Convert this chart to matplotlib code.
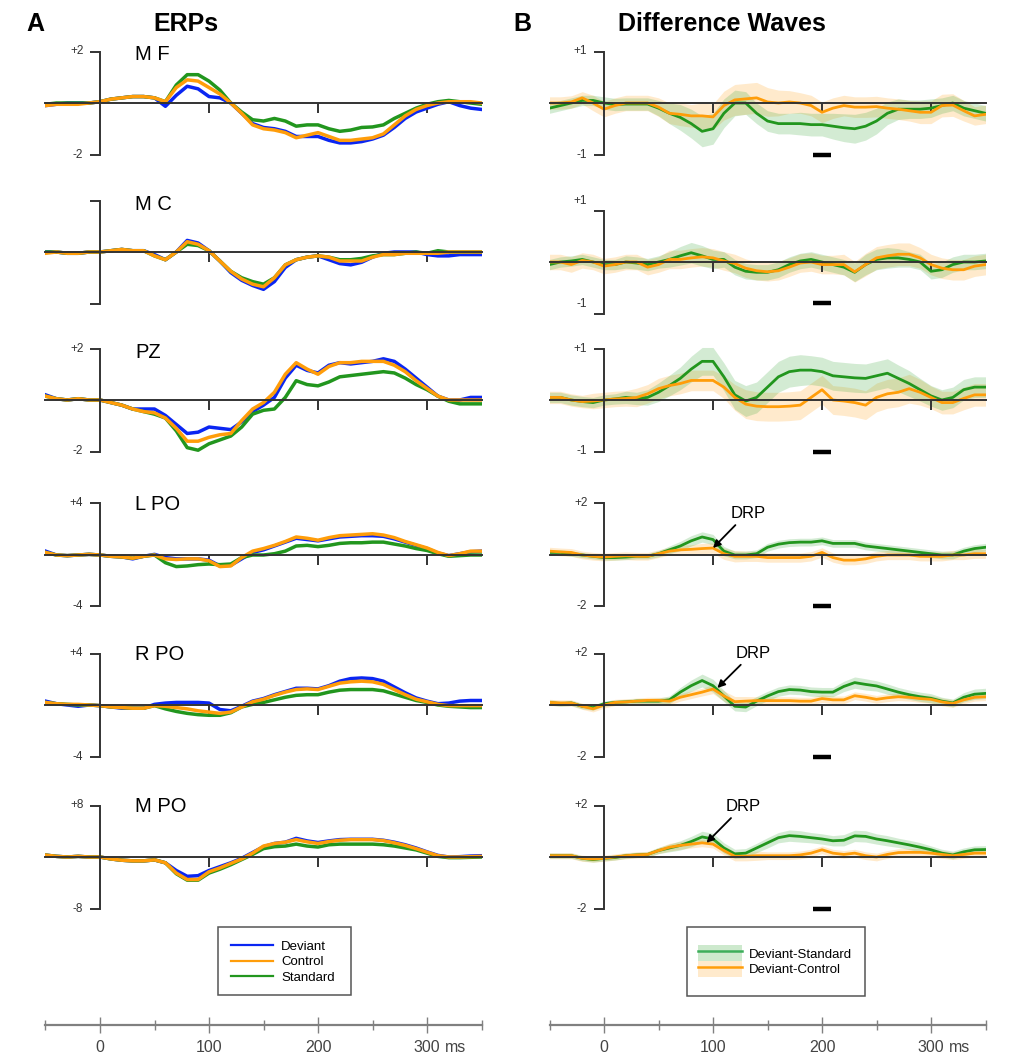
import numpy as np
import matplotlib.pyplot as plt
from matplotlib.lines import Line2D
from matplotlib.patches import Patch, Rectangle
from matplotlib.legend_handler import HandlerTuple

plt.rcParams['font.family'] = ['Liberation Sans', 'DejaVu Sans']

# time axis (ms), one value every 10 ms
times = np.arange(-50, 351, 10)

# ---- ERPs (uV): deviant / control / standard ----
mf_dev = [-0.10, -0.05, 0.00, 0.00, 0.00, 0.05, 0.15, 0.20, 0.25, 0.25, 0.20, -0.13, 0.30, 0.65, 0.55, 0.25, 0.20, 0.00, -0.40, -0.80, -0.95, -1.00, -1.10, -1.30, -1.30, -1.30, -1.45, -1.55, -1.55, -1.50, -1.40, -1.25, -0.95, -0.60, -0.35, -0.20, -0.05, 0.05, -0.10, -0.20, -0.25]
mf_ctl = [-0.10, -0.05, -0.05, -0.05, 0.00, 0.05, 0.15, 0.20, 0.25, 0.25, 0.20, 0.05, 0.60, 0.90, 0.85, 0.60, 0.35, 0.00, -0.40, -0.85, -1.00, -1.05, -1.15, -1.35, -1.25, -1.15, -1.30, -1.45, -1.45, -1.40, -1.35, -1.20, -0.85, -0.50, -0.25, -0.10, 0.00, 0.05, 0.05, 0.05, 0.00]
mf_std = [-0.05, 0.00, 0.00, 0.00, 0.00, 0.05, 0.15, 0.20, 0.25, 0.25, 0.20, 0.05, 0.70, 1.10, 1.10, 0.85, 0.50, 0.00, -0.35, -0.65, -0.70, -0.60, -0.70, -0.90, -0.85, -0.85, -1.00, -1.10, -1.05, -0.95, -0.93, -0.85, -0.60, -0.40, -0.20, -0.05, 0.05, 0.10, 0.05, 0.00, -0.05]

mc_dev = [0.00, 0.00, -0.05, -0.05, 0.00, 0.00, 0.05, 0.10, 0.05, 0.05, -0.10, -0.30, 0.00, 0.45, 0.35, 0.05, -0.35, -0.80, -1.10, -1.30, -1.45, -1.15, -0.60, -0.30, -0.20, -0.15, -0.30, -0.45, -0.50, -0.40, -0.20, -0.05, 0.00, 0.00, 0.00, -0.10, -0.15, -0.15, -0.10, -0.10, -0.10]
mc_ctl = [-0.05, 0.00, -0.05, -0.05, 0.00, 0.00, 0.05, 0.10, 0.05, 0.05, -0.15, -0.30, 0.00, 0.40, 0.30, 0.05, -0.35, -0.75, -1.05, -1.25, -1.35, -1.00, -0.50, -0.30, -0.20, -0.15, -0.20, -0.35, -0.35, -0.35, -0.20, -0.10, -0.10, -0.05, -0.05, -0.05, -0.05, 0.00, 0.00, 0.00, 0.00]
mc_std = [0.00, 0.00, -0.05, -0.05, 0.00, 0.00, 0.05, 0.10, 0.05, 0.05, -0.15, -0.30, 0.00, 0.30, 0.25, 0.05, -0.35, -0.75, -1.00, -1.15, -1.25, -1.00, -0.50, -0.30, -0.20, -0.15, -0.20, -0.30, -0.30, -0.25, -0.15, -0.10, -0.10, -0.05, 0.00, -0.05, 0.05, 0.00, 0.00, 0.00, 0.00]

pz_dev = [0.20, 0.05, 0.00, 0.05, 0.00, 0.00, -0.10, -0.20, -0.35, -0.35, -0.35, -0.60, -0.95, -1.30, -1.25, -1.05, -1.10, -1.15, -0.85, -0.45, -0.20, 0.10, 0.85, 1.35, 1.15, 1.05, 1.35, 1.45, 1.40, 1.45, 1.50, 1.60, 1.50, 1.20, 0.85, 0.50, 0.15, 0.00, 0.00, 0.10, 0.10]
pz_ctl = [0.15, 0.05, 0.00, 0.05, 0.00, 0.00, -0.10, -0.20, -0.35, -0.45, -0.50, -0.70, -1.10, -1.60, -1.60, -1.45, -1.35, -1.30, -0.80, -0.35, -0.10, 0.30, 1.00, 1.45, 1.20, 1.00, 1.30, 1.45, 1.45, 1.50, 1.50, 1.50, 1.35, 1.10, 0.75, 0.45, 0.15, 0.00, 0.00, 0.00, 0.00]
pz_std = [0.15, 0.05, 0.00, 0.05, 0.00, 0.00, -0.10, -0.20, -0.35, -0.45, -0.55, -0.70, -1.20, -1.85, -1.95, -1.70, -1.55, -1.40, -1.05, -0.55, -0.40, -0.35, 0.10, 0.75, 0.60, 0.55, 0.70, 0.90, 0.95, 1.00, 1.05, 1.10, 1.05, 0.85, 0.60, 0.40, 0.15, -0.05, -0.15, -0.15, -0.15]

lpo_dev = [0.30, 0.00, -0.05, 0.00, 0.05, 0.00, -0.10, -0.15, -0.30, -0.10, 0.05, -0.20, -0.30, -0.30, -0.30, -0.40, -0.85, -0.80, -0.30, 0.20, 0.40, 0.70, 1.00, 1.30, 1.20, 1.10, 1.25, 1.40, 1.45, 1.50, 1.50, 1.45, 1.25, 1.00, 0.75, 0.50, 0.15, -0.05, 0.10, 0.25, 0.30]
lpo_ctl = [0.20, 0.00, -0.05, 0.00, 0.05, 0.00, -0.10, -0.15, -0.25, -0.10, 0.00, -0.30, -0.35, -0.30, -0.30, -0.45, -0.90, -0.85, -0.20, 0.30, 0.50, 0.75, 1.05, 1.40, 1.30, 1.15, 1.35, 1.50, 1.55, 1.60, 1.65, 1.55, 1.35, 1.05, 0.80, 0.55, 0.20, -0.05, 0.10, 0.30, 0.30]
lpo_std = [0.20, 0.00, -0.05, 0.00, 0.05, 0.00, -0.10, -0.15, -0.25, -0.10, 0.00, -0.60, -0.90, -0.85, -0.75, -0.70, -0.75, -0.70, -0.20, 0.00, 0.00, 0.10, 0.30, 0.70, 0.75, 0.65, 0.75, 0.90, 0.95, 0.95, 1.00, 1.00, 0.85, 0.70, 0.50, 0.35, 0.10, -0.10, -0.05, 0.00, 0.00]

rpo_dev = [0.30, 0.10, 0.00, -0.10, 0.00, -0.05, -0.15, -0.25, -0.25, -0.25, 0.05, 0.15, 0.20, 0.20, 0.20, 0.15, -0.35, -0.45, -0.10, 0.30, 0.50, 0.80, 1.05, 1.30, 1.30, 1.25, 1.50, 1.85, 2.05, 2.10, 2.05, 1.85, 1.40, 0.95, 0.55, 0.30, 0.10, 0.15, 0.30, 0.35, 0.35]
rpo_ctl = [0.20, 0.10, 0.05, 0.05, 0.00, -0.05, -0.15, -0.20, -0.25, -0.25, -0.05, -0.10, -0.20, -0.30, -0.45, -0.55, -0.65, -0.55, -0.15, 0.25, 0.45, 0.75, 1.00, 1.20, 1.25, 1.20, 1.45, 1.70, 1.80, 1.85, 1.80, 1.60, 1.20, 0.80, 0.45, 0.25, 0.05, -0.05, -0.05, -0.05, -0.05]
rpo_std = [0.20, 0.10, 0.05, 0.00, 0.00, -0.05, -0.15, -0.20, -0.25, -0.25, -0.05, -0.30, -0.50, -0.65, -0.75, -0.80, -0.80, -0.60, -0.15, 0.05, 0.20, 0.40, 0.60, 0.75, 0.80, 0.80, 1.00, 1.15, 1.20, 1.20, 1.20, 1.10, 0.85, 0.60, 0.35, 0.20, 0.00, -0.10, -0.15, -0.20, -0.20]

mpo_dev = [0.30, 0.10, 0.00, 0.10, 0.00, 0.00, -0.30, -0.50, -0.60, -0.60, -0.45, -0.90, -2.10, -3.00, -2.90, -2.10, -1.50, -0.90, -0.20, 0.70, 1.60, 2.10, 2.30, 2.90, 2.50, 2.25, 2.50, 2.70, 2.75, 2.75, 2.75, 2.60, 2.30, 1.90, 1.40, 0.80, 0.25, 0.00, 0.05, 0.15, 0.20]
mpo_ctl = [0.30, 0.10, 0.00, 0.10, 0.00, 0.00, -0.30, -0.50, -0.60, -0.60, -0.45, -0.90, -2.50, -3.50, -3.50, -2.30, -1.70, -1.00, -0.30, 0.60, 1.70, 2.10, 2.30, 2.70, 2.35, 2.10, 2.40, 2.60, 2.70, 2.70, 2.70, 2.55, 2.20, 1.80, 1.30, 0.75, 0.20, 0.00, 0.00, 0.05, 0.10]
mpo_std = [0.30, 0.10, 0.00, 0.10, 0.00, 0.00, -0.30, -0.50, -0.60, -0.60, -0.45, -0.90, -2.60, -3.60, -3.60, -2.50, -1.90, -1.20, -0.40, 0.40, 1.30, 1.60, 1.70, 2.00, 1.70, 1.55, 1.90, 2.00, 2.00, 2.00, 2.00, 1.90, 1.70, 1.40, 1.10, 0.60, 0.10, -0.10, -0.10, -0.05, 0.00]

# ---- difference waves: deviant-standard / deviant-control, with SE ----
mf_dstd = [-0.10, -0.05, 0.00, 0.05, 0.05, 0.00, -0.03, -0.02, -0.02, -0.02, -0.10, -0.20, -0.28, -0.40, -0.55, -0.50, -0.20, 0.00, 0.00, -0.20, -0.35, -0.40, -0.40, -0.40, -0.42, -0.42, -0.45, -0.48, -0.50, -0.45, -0.35, -0.20, -0.12, -0.12, -0.12, -0.10, -0.05, 0.00, -0.10, -0.15, -0.20]
mf_dctl = [0.00, 0.00, 0.02, 0.10, 0.00, -0.12, -0.05, 0.00, 0.00, 0.00, -0.08, -0.20, -0.22, -0.25, -0.25, -0.27, -0.05, 0.06, 0.08, 0.10, 0.02, 0.00, 0.02, 0.00, -0.05, -0.18, -0.10, -0.05, -0.08, -0.08, -0.07, -0.10, -0.12, -0.15, -0.18, -0.18, -0.05, -0.04, -0.15, -0.25, -0.22]
mf_dstd_se = [0.10, 0.10, 0.10, 0.10, 0.10, 0.12, 0.12, 0.12, 0.12, 0.12, 0.15, 0.20, 0.25, 0.28, 0.30, 0.30, 0.28, 0.25, 0.22, 0.20, 0.20, 0.20, 0.20, 0.22, 0.22, 0.22, 0.25, 0.27, 0.28, 0.27, 0.25, 0.22, 0.20, 0.18, 0.18, 0.18, 0.15, 0.15, 0.15, 0.15, 0.15]
mf_dctl_se = [0.12, 0.12, 0.12, 0.12, 0.15, 0.15, 0.15, 0.15, 0.15, 0.15, 0.18, 0.20, 0.22, 0.22, 0.25, 0.25, 0.28, 0.30, 0.30, 0.30, 0.28, 0.25, 0.22, 0.20, 0.20, 0.20, 0.20, 0.20, 0.20, 0.20, 0.20, 0.20, 0.20, 0.20, 0.22, 0.22, 0.22, 0.22, 0.20, 0.18, 0.18]

mc_dstd = [-0.05, 0.00, 0.02, 0.05, 0.00, -0.05, -0.05, 0.00, -0.02, -0.05, 0.00, 0.05, 0.12, 0.18, 0.12, 0.05, 0.05, -0.10, -0.18, -0.20, -0.20, -0.15, -0.05, 0.02, 0.05, 0.00, -0.05, -0.10, -0.20, -0.05, 0.05, 0.08, 0.08, 0.05, 0.00, -0.18, -0.15, -0.05, 0.00, 0.00, 0.02]
mc_dctl = [0.00, 0.00, -0.05, 0.03, 0.00, -0.08, -0.05, 0.00, 0.00, -0.10, -0.05, 0.05, 0.05, 0.08, 0.10, 0.08, 0.02, -0.03, -0.12, -0.17, -0.19, -0.17, -0.10, -0.02, 0.00, -0.05, -0.05, -0.05, -0.19, -0.05, 0.08, 0.12, 0.15, 0.15, 0.08, -0.05, -0.12, -0.15, -0.15, -0.08, -0.05]
mc_dstd_se = [0.10, 0.10, 0.10, 0.10, 0.10, 0.10, 0.10, 0.12, 0.12, 0.12, 0.12, 0.15, 0.18, 0.20, 0.20, 0.18, 0.15, 0.15, 0.15, 0.15, 0.15, 0.15, 0.15, 0.15, 0.15, 0.15, 0.15, 0.15, 0.18, 0.20, 0.20, 0.20, 0.18, 0.15, 0.15, 0.15, 0.15, 0.15, 0.15, 0.15, 0.15]
mc_dctl_se = [0.15, 0.15, 0.15, 0.15, 0.15, 0.15, 0.15, 0.15, 0.15, 0.15, 0.15, 0.18, 0.18, 0.18, 0.18, 0.18, 0.18, 0.18, 0.18, 0.18, 0.18, 0.18, 0.18, 0.18, 0.18, 0.18, 0.18, 0.20, 0.20, 0.22, 0.22, 0.22, 0.22, 0.22, 0.20, 0.20, 0.20, 0.20, 0.20, 0.20, 0.20]

pz_dstd = [0.05, 0.05, 0.00, -0.03, -0.05, 0.00, 0.02, 0.05, 0.03, 0.05, 0.15, 0.28, 0.42, 0.60, 0.75, 0.75, 0.45, 0.10, -0.02, 0.05, 0.25, 0.45, 0.55, 0.58, 0.58, 0.55, 0.47, 0.45, 0.43, 0.42, 0.47, 0.52, 0.42, 0.32, 0.20, 0.08, 0.00, 0.05, 0.20, 0.25, 0.25]
pz_dctl = [0.05, 0.05, 0.00, -0.03, -0.02, 0.00, 0.02, 0.03, 0.05, 0.12, 0.22, 0.28, 0.32, 0.38, 0.38, 0.38, 0.25, 0.05, -0.08, -0.12, -0.13, -0.13, -0.12, -0.10, 0.05, 0.20, 0.00, -0.02, -0.05, -0.10, 0.05, 0.12, 0.15, 0.22, 0.15, 0.05, -0.05, -0.05, 0.03, 0.10, 0.10]
pz_dstd_se = [0.10, 0.10, 0.10, 0.10, 0.10, 0.10, 0.10, 0.12, 0.12, 0.15, 0.18, 0.20, 0.22, 0.25, 0.27, 0.27, 0.27, 0.28, 0.30, 0.30, 0.30, 0.30, 0.30, 0.30, 0.28, 0.28, 0.28, 0.28, 0.28, 0.28, 0.28, 0.28, 0.26, 0.25, 0.22, 0.20, 0.20, 0.20, 0.20, 0.20, 0.20]
pz_dctl_se = [0.12, 0.12, 0.12, 0.12, 0.15, 0.15, 0.15, 0.15, 0.18, 0.18, 0.20, 0.20, 0.20, 0.20, 0.20, 0.20, 0.22, 0.25, 0.28, 0.28, 0.28, 0.28, 0.28, 0.28, 0.28, 0.28, 0.28, 0.28, 0.28, 0.28, 0.28, 0.28, 0.28, 0.28, 0.25, 0.22, 0.22, 0.22, 0.22, 0.22, 0.22]

lpo_dstd = [0.10, 0.10, 0.05, 0.00, -0.05, -0.10, -0.10, -0.08, -0.05, -0.05, 0.05, 0.20, 0.35, 0.55, 0.70, 0.60, 0.15, 0.00, 0.00, 0.05, 0.30, 0.42, 0.48, 0.50, 0.50, 0.55, 0.45, 0.45, 0.45, 0.35, 0.30, 0.25, 0.20, 0.15, 0.10, 0.05, 0.00, 0.00, 0.15, 0.25, 0.30]
lpo_dctl = [0.15, 0.12, 0.10, 0.00, -0.05, -0.08, -0.05, -0.03, -0.05, -0.05, 0.05, 0.15, 0.20, 0.22, 0.25, 0.27, 0.05, -0.05, -0.05, -0.05, -0.10, -0.10, -0.10, -0.10, -0.05, 0.10, -0.10, -0.20, -0.20, -0.15, -0.05, 0.00, 0.00, 0.00, -0.05, -0.05, -0.05, 0.00, 0.00, 0.05, 0.05]
lpo_dstd_se = [0.10, 0.10, 0.10, 0.10, 0.10, 0.10, 0.10, 0.10, 0.10, 0.10, 0.12, 0.15, 0.18, 0.20, 0.20, 0.20, 0.18, 0.15, 0.15, 0.15, 0.15, 0.15, 0.15, 0.15, 0.15, 0.15, 0.15, 0.15, 0.15, 0.15, 0.15, 0.15, 0.15, 0.15, 0.15, 0.15, 0.15, 0.15, 0.15, 0.15, 0.15]
lpo_dctl_se = [0.15, 0.15, 0.15, 0.15, 0.15, 0.15, 0.15, 0.15, 0.15, 0.15, 0.15, 0.15, 0.18, 0.18, 0.20, 0.20, 0.22, 0.22, 0.20, 0.20, 0.18, 0.18, 0.18, 0.18, 0.18, 0.18, 0.18, 0.18, 0.18, 0.18, 0.18, 0.18, 0.18, 0.18, 0.18, 0.18, 0.18, 0.18, 0.18, 0.18, 0.18]

rpo_dstd = [0.10, 0.05, 0.08, -0.05, -0.10, 0.05, 0.10, 0.12, 0.15, 0.15, 0.15, 0.20, 0.50, 0.75, 0.95, 0.75, 0.35, -0.05, -0.08, 0.15, 0.35, 0.52, 0.60, 0.58, 0.52, 0.50, 0.50, 0.72, 0.87, 0.80, 0.74, 0.62, 0.50, 0.40, 0.32, 0.26, 0.15, 0.08, 0.30, 0.42, 0.45]
rpo_dctl = [0.10, 0.08, 0.08, -0.05, -0.15, 0.00, 0.10, 0.12, 0.15, 0.18, 0.18, 0.15, 0.30, 0.40, 0.50, 0.62, 0.35, 0.13, 0.15, 0.17, 0.17, 0.17, 0.17, 0.15, 0.15, 0.25, 0.20, 0.20, 0.36, 0.30, 0.22, 0.28, 0.32, 0.30, 0.25, 0.22, 0.12, 0.06, 0.20, 0.30, 0.32]
rpo_dstd_se = [0.10, 0.10, 0.10, 0.10, 0.10, 0.10, 0.10, 0.10, 0.10, 0.10, 0.12, 0.15, 0.18, 0.22, 0.25, 0.25, 0.22, 0.18, 0.18, 0.18, 0.18, 0.18, 0.18, 0.18, 0.18, 0.18, 0.18, 0.20, 0.22, 0.22, 0.20, 0.20, 0.18, 0.18, 0.18, 0.18, 0.15, 0.15, 0.18, 0.20, 0.20]
rpo_dctl_se = [0.12, 0.12, 0.12, 0.12, 0.12, 0.12, 0.12, 0.12, 0.12, 0.12, 0.12, 0.15, 0.15, 0.15, 0.15, 0.18, 0.20, 0.20, 0.18, 0.15, 0.15, 0.15, 0.15, 0.15, 0.15, 0.15, 0.15, 0.15, 0.15, 0.15, 0.15, 0.15, 0.15, 0.15, 0.15, 0.15, 0.15, 0.15, 0.15, 0.15, 0.15]

mpo_dstd = [0.05, 0.05, 0.05, -0.05, -0.10, -0.05, -0.02, 0.05, 0.08, 0.10, 0.25, 0.35, 0.45, 0.60, 0.78, 0.70, 0.35, 0.12, 0.15, 0.35, 0.55, 0.75, 0.83, 0.80, 0.75, 0.70, 0.63, 0.65, 0.82, 0.80, 0.70, 0.63, 0.55, 0.47, 0.38, 0.28, 0.15, 0.08, 0.20, 0.28, 0.29]
mpo_dctl = [0.05, 0.05, 0.05, -0.05, -0.08, -0.05, 0.00, 0.05, 0.08, 0.10, 0.25, 0.38, 0.45, 0.50, 0.55, 0.50, 0.25, 0.03, 0.03, 0.05, 0.05, 0.05, 0.05, 0.08, 0.15, 0.28, 0.15, 0.10, 0.15, 0.05, 0.00, 0.10, 0.17, 0.18, 0.18, 0.15, 0.10, 0.05, 0.10, 0.15, 0.15]
mpo_dstd_se = [0.10, 0.10, 0.10, 0.10, 0.10, 0.10, 0.10, 0.10, 0.10, 0.10, 0.12, 0.15, 0.18, 0.20, 0.22, 0.22, 0.20, 0.18, 0.18, 0.18, 0.20, 0.20, 0.22, 0.22, 0.20, 0.20, 0.20, 0.22, 0.22, 0.22, 0.20, 0.20, 0.18, 0.18, 0.18, 0.15, 0.15, 0.15, 0.15, 0.15, 0.15]
mpo_dctl_se = [0.12, 0.12, 0.12, 0.12, 0.12, 0.12, 0.12, 0.12, 0.12, 0.12, 0.12, 0.15, 0.15, 0.15, 0.15, 0.15, 0.18, 0.18, 0.18, 0.18, 0.15, 0.15, 0.15, 0.15, 0.15, 0.15, 0.15, 0.15, 0.15, 0.15, 0.15, 0.15, 0.15, 0.15, 0.15, 0.15, 0.15, 0.15, 0.15, 0.15, 0.15]

channels = ['M F', 'M C', 'PZ', 'L PO', 'R PO', 'M PO']
erp_scale = [2, 2, 2, 4, 4, 8]
diff_scale = [1, 1, 1, 2, 2, 2]
erps = [(mf_dev, mf_ctl, mf_std), (mc_dev, mc_ctl, mc_std), (pz_dev, pz_ctl, pz_std),
        (lpo_dev, lpo_ctl, lpo_std), (rpo_dev, rpo_ctl, rpo_std), (mpo_dev, mpo_ctl, mpo_std)]
diffs = [(mf_dstd, mf_dstd_se, mf_dctl, mf_dctl_se), (mc_dstd, mc_dstd_se, mc_dctl, mc_dctl_se),
         (pz_dstd, pz_dstd_se, pz_dctl, pz_dctl_se), (lpo_dstd, lpo_dstd_se, lpo_dctl, lpo_dctl_se),
         (rpo_dstd, rpo_dstd_se, rpo_dctl, rpo_dctl_se), (mpo_dstd, mpo_dstd_se, mpo_dctl, mpo_dctl_se)]
sig_window = [192, 208]
# DRP arrows: (row, tip time, tip value, text time, text value)
drp_marks = [(3, 100, 0.27, 132, 1.6), (4, 104, 0.66, 137, 2.0), (5, 94, 0.55, 128, 1.95)]

# layout in pixels
W, H = 1012, 1059
left_zero = [103, 252, 400, 555, 705, 857]
right_zero = [103, 262, 400, 555, 705, 857]
label_y = [54, 204, 353, 505, 655, 807]
HALF = 51.5   # pixels between 0 and the scale-bar end
PAD = 70

BLUE = '#0a26f2'
ORANGE = '#ff9d0a'
GREEN = '#22961e'
AXC = '#333333'

fig = plt.figure(figsize=(W / 100, H / 100), dpi=100)


def px_axes(x0, x1, y0, y1):
    ax = fig.add_axes([x0 / W, 1 - y1 / H, (x1 - x0) / W, (y1 - y0) / H])
    ax.patch.set_visible(False)
    return ax


def setup(ax, s, labels, label_dy=0):
    ax.set_xlim(-50, 350)
    ax.set_ylim(-s * PAD / HALF, s * PAD / HALF)
    ax.spines['top'].set_visible(False)
    ax.spines['right'].set_visible(False)
    ax.spines['left'].set_position(('data', 0))
    ax.spines['left'].set_bounds(-s, s)
    ax.spines['bottom'].set_position(('data', 0))
    ax.spines['bottom'].set_bounds(-50, 350)
    for sp in ['left', 'bottom']:
        ax.spines[sp].set_color(AXC)
        ax.spines[sp].set_linewidth(1.4)
    ax.set_yticks([-s, s])
    ax.set_yticklabels([])
    ax.set_xticks([100, 200, 300])
    ax.set_xticklabels([])
    ax.tick_params(axis='both', direction='out', length=7.5, width=1.4, color=AXC)
    if labels:
        for val, lab in zip([s, -s], labels):
            ax.annotate(lab, xy=(0, val), xytext=(-12, label_dy), textcoords='offset points',
                        ha='right', va='center', fontsize=8.5, color=AXC)


def px_frame(x0, y0, x1, y1):
    fig.add_artist(Rectangle((x0 / W, 1 - y1 / H), (x1 - x0) / W, (y1 - y0) / H,
                             transform=fig.transFigure, fill=False, edgecolor='#555555', lw=1.1))


for i in range(6):
    # ERPs
    s = erp_scale[i]
    yc = left_zero[i]
    ax = px_axes(45.5, 481.5, yc - PAD, yc + PAD)
    labs = None if i == 1 else ('+%d' % s, '-%d' % s)
    setup(ax, s, labs)
    dev, ctl, std = erps[i]
    ax.plot(times, dev, color=BLUE, lw=2.5, solid_joinstyle='round')
    ax.plot(times, std, color=GREEN, lw=2.5, solid_joinstyle='round')
    ax.plot(times, ctl, color=ORANGE, lw=2.5, solid_joinstyle='round')
    fig.text(135 / W, 1 - label_y[i] / H, channels[i], fontsize=14.5, va='center', ha='left')

    # difference waves
    s = diff_scale[i]
    yc = right_zero[i]
    ax = px_axes(549.5, 985.5, yc - PAD, yc + PAD)
    setup(ax, s, ('+%d' % s, '-%d' % s), label_dy=7 if i == 1 else 0)
    dstd, dstd_se, dctl, dctl_se = [np.array(v) for v in diffs[i]]
    ax.fill_between(times, dctl - dctl_se, dctl + dctl_se, color='#ffa31a', alpha=0.22, lw=0)
    ax.fill_between(times, dstd - dstd_se, dstd + dstd_se, color='#3aa83a', alpha=0.22, lw=0)
    ax.plot(times, dstd, color=GREEN, lw=2.0, solid_joinstyle='round')
    ax.plot(times, dctl, color=ORANGE, lw=2.0, solid_joinstyle='round')
    bar_y = -0.8 * s if i == 1 else -s
    ax.plot(sig_window, [bar_y, bar_y], color='black', lw=3.2, solid_capstyle='butt', clip_on=False)
    for row, tt, tv, xt, xv in drp_marks:
        if row == i:
            ax.annotate('DRP', xy=(tt, tv), xytext=(xt, xv), fontsize=12, ha='center', va='center',
                        arrowprops=dict(arrowstyle='-|>', color='black', lw=1.3, mutation_scale=11,
                                        shrinkA=1, shrinkB=0, relpos=(0.25, 0.0)))

# panel titles
fig.text(35 / W, 1 - 24 / H, 'A', fontsize=18, fontweight='bold', ha='center', va='center')
fig.text(186 / W, 1 - 24 / H, 'ERPs', fontsize=18, fontweight='bold', ha='center', va='center')
fig.text(522 / W, 1 - 24 / H, 'B', fontsize=18, fontweight='bold', ha='center', va='center')
fig.text(722 / W, 1 - 24 / H, 'Difference Waves', fontsize=18, fontweight='bold', ha='center', va='center')

# legends (frames drawn separately to match the boxes)
erp_handles = [Line2D([], [], color=BLUE, lw=1.6), Line2D([], [], color=ORANGE, lw=1.6),
               Line2D([], [], color=GREEN, lw=1.6)]
px_frame(218, 927, 351, 995)
fig.legend(erp_handles, ['Deviant', 'Control', 'Standard'], loc='center',
           bbox_to_anchor=(283 / W, 1 - 962 / H), frameon=False,
           fontsize=9.5, handlelength=3.2, handletextpad=0.6, labelspacing=0.25,
           borderpad=0, borderaxespad=0)

diff_handles = [(Patch(facecolor='#3aa83a', alpha=0.25, lw=0), Line2D([], [], color='#3cae5a', lw=1.8)),
                (Patch(facecolor='#ffa31a', alpha=0.22, lw=0), Line2D([], [], color=ORANGE, lw=1.8))]
px_frame(687, 927, 865, 996)
fig.legend(diff_handles, ['Deviant-Standard', 'Deviant-Control'], loc='center',
           bbox_to_anchor=(775 / W, 1 - 961 / H), frameon=False,
           handler_map={tuple: HandlerTuple(ndivide=1, pad=0)},
           fontsize=9.5, handlelength=3.3, handleheight=1.45, handletextpad=0.5,
           labelspacing=0.0, borderpad=0, borderaxespad=0)

# time scale bars at the bottom
for x0 in [45.5, 549.5]:
    ax = px_axes(x0, x0 + 436, 1000, 1050)
    ax.set_xlim(-50, 350)
    ax.set_ylim(-1, 1)
    for sp in ['top', 'right', 'left']:
        ax.spines[sp].set_visible(False)
    ax.spines['bottom'].set_position(('data', 0))
    ax.spines['bottom'].set_color('#808080')
    ax.spines['bottom'].set_linewidth(1.6)
    ax.set_yticks([])
    ax.set_xticks([0, 100, 200, 300])
    ax.set_xticklabels(['0', '100', '200', '300'])
    ax.set_xticks([-50, 50, 150, 250, 350], minor=True)
    ax.tick_params(axis='x', which='major', direction='inout', length=12, width=1.0,
                   color='#808080', labelsize=11.5, labelcolor='#444444', pad=5)
    ax.tick_params(axis='x', which='minor', direction='inout', length=7, width=1.0, color='#808080')
    ax.annotate('ms', xy=(300, 0), xytext=(13, -11), textcoords='offset points',
                ha='left', va='top', fontsize=11.5, color='#444444')

fig.savefig('out.png', dpi=100)
